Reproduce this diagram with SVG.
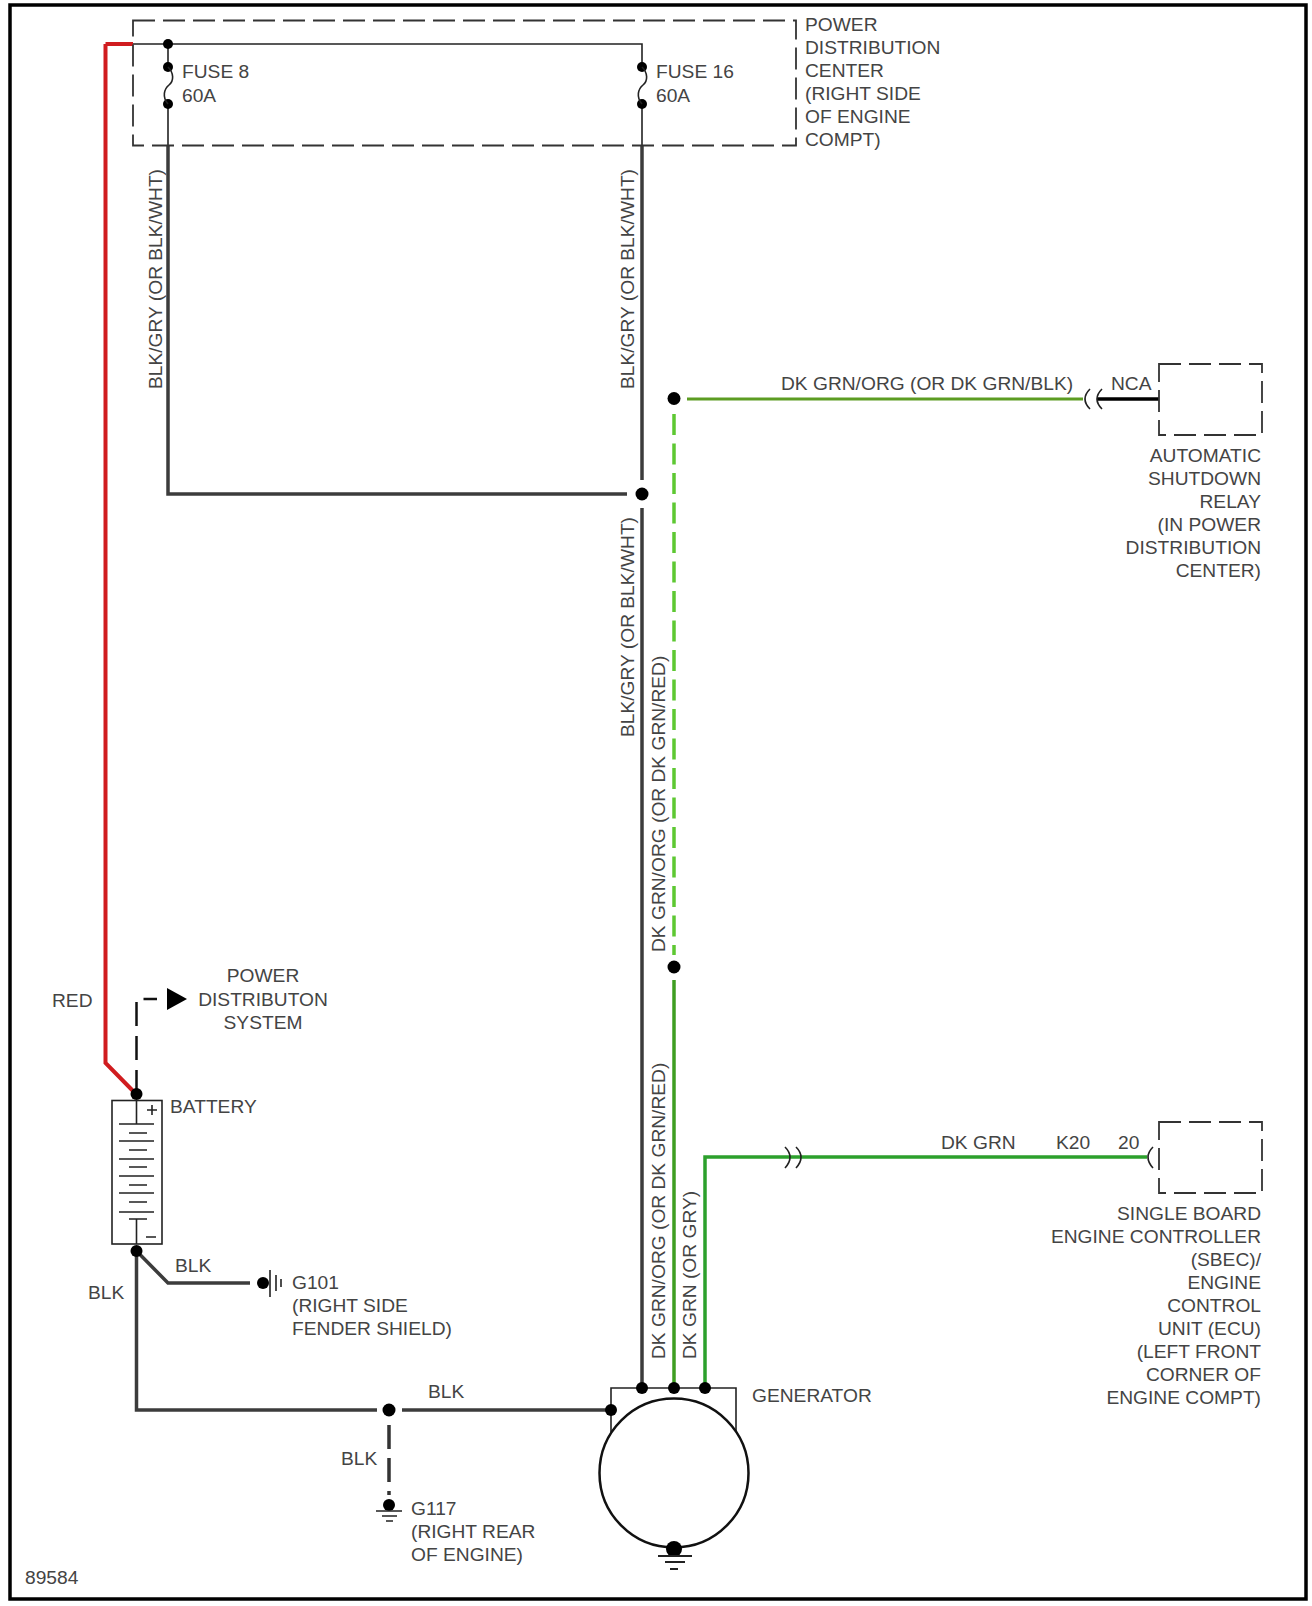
<svg xmlns="http://www.w3.org/2000/svg" width="1312" height="1606" viewBox="0 0 1312 1606">
<style>
text{font-family:"Liberation Sans",Arial,sans-serif;font-size:19.200px;fill:#444}
.e{text-anchor:end}.m{text-anchor:middle}
.w{fill:none;stroke-linejoin:miter}
.k{stroke:#3c3c3c;stroke-width:2.5}
.kt{stroke:#3c3c3c;stroke-width:3.5}
.t{fill:none;stroke:#222;stroke-width:1.6}
.d{fill:none;stroke:#333;stroke-width:1.8;stroke-dasharray:22 8}
.g{fill:none;stroke:#2ca02c;stroke-width:3.5}
circle{fill:#000}
</style>
<rect width="1312" height="1606" fill="#fff"/>
<rect x="10" y="5" width="1296" height="1594" fill="none" stroke="#000" stroke-width="3.5"/>
<g id="connectors" class="w">
<path class="w" d="M105.500 44V1063L136 1094" style="stroke:#d01c1f;stroke-width:4"/>
<path class="w" d="M105.500 44H133" style="stroke:#d01c1f;stroke-width:4"/>
<path class="t" d="M133 44H642V67"/>
<path class="t" d="M168 44V67"/>
<path class="t" d="M168 104V146M642 104V146"/>
<path class="w kt" d="M168 146V494H627"/>
<path class="w kt" d="M642 146V480M642 508V1388"/>
<path class="w" d="M687 399H1083" style="stroke:#5c9c22;stroke-width:3"/>
<path class="w" d="M1097 399H1159" style="stroke:#000;stroke-width:3.5"/>
<path class="w" d="M674 414V955" style="stroke:#5dc832;stroke-width:3.500;stroke-dasharray:21 8.500"/>
<path class="w" d="M674 980V1388" style="stroke:#3f9e22;stroke-width:3.500"/>
<path class="g" d="M705 1388V1157H1147"/>
<path class="w" d="M136.500 1094V999H157" style="stroke:#111;stroke-width:2.500;stroke-dasharray:24 10"/>
<path class="w kt" d="M136.500 1251V1410H377M402 1410H611"/>
<path class="w kt" d="M136.500 1251L168 1283H250"/>
<path class="w" d="M389 1425V1495" style="stroke:#333;stroke-width:3.500;stroke-dasharray:24 9"/>
</g>
<g id="power-distribution-center">
<path class="d" d="M133 20.500H796V145.500H133Z"/>
<text x="805" y="31">POWER</text><text x="805" y="54">DISTRIBUTION</text><text x="805" y="77">CENTER</text><text x="805" y="100">(RIGHT SIDE</text><text x="805" y="123">OF ENGINE</text><text x="805" y="146">COMPT)</text>
</g>
<g id="fuse-8">
<circle cx="168" cy="44" r="5"/><circle cx="168" cy="67" r="5"/><circle cx="168" cy="104" r="5"/>
<path class="t" d="M168 67C174 73 174 81 169 85C164 89 162 97 168 104"/>
<text x="182" y="78">FUSE 8</text><text x="182" y="102">60A</text>
</g>
<g id="fuse-16">
<circle cx="642" cy="67" r="5"/><circle cx="642" cy="104" r="5"/>
<path class="t" d="M642 67C648 73 648 81 643 85C638 89 636 97 642 104"/>
<text x="656" y="78">FUSE 16</text><text x="656" y="102">60A</text>
</g>
<g id="wire-labels">
<text transform="translate(162 389) rotate(-90)">BLK/GRY (OR BLK/WHT)</text>
<text transform="translate(634 389) rotate(-90)">BLK/GRY (OR BLK/WHT)</text>
<text transform="translate(634 737) rotate(-90)">BLK/GRY (OR BLK/WHT)</text>
<text transform="translate(665 952) rotate(-90)">DK GRN/ORG (OR DK GRN/RED)</text>
<text transform="translate(665 1359) rotate(-90)">DK GRN/ORG (OR DK GRN/RED)</text>
<text transform="translate(696 1359) rotate(-90)">DK GRN (OR GRY)</text>
<text x="781" y="390">DK GRN/ORG (OR DK GRN/BLK)</text>
<text x="1111" y="390">NCA</text>
<text x="941" y="1149">DK GRN</text><text x="1056" y="1149">K20</text><text x="1118" y="1149">20</text>
<text x="52" y="1007">RED</text>
<text x="175" y="1272">BLK</text><text x="88" y="1299">BLK</text><text x="428" y="1398">BLK</text><text x="341" y="1465">BLK</text>
</g>
<g id="splices">
<circle cx="642" cy="494" r="6.500"/><circle cx="674" cy="398.500" r="6.500"/><circle cx="674" cy="967" r="6.500"/><circle cx="389" cy="1410" r="6.500"/>
</g>
<g id="asd-relay">
<path class="d" d="M1159 364H1262V435H1159Z"/>
<path class="t" d="M1090 389Q1080 399 1090 409M1102 389Q1092 399 1102 409"/>
<text class="e" x="1261" y="462">AUTOMATIC</text><text class="e" x="1261" y="485">SHUTDOWN</text><text class="e" x="1261" y="508">RELAY</text><text class="e" x="1261" y="531">(IN POWER</text><text class="e" x="1261" y="554">DISTRIBUTION</text><text class="e" x="1261" y="577">CENTER)</text>
</g>
<g id="sbec">
<path class="d" d="M1159 1122H1262V1193H1159Z"/>
<path class="t" d="M1153 1147Q1143 1157 1153 1168"/>
<path class="t" d="M785 1147Q795 1157 785 1168M796 1147Q806 1157 796 1168"/>
<text class="e" x="1261" y="1220">SINGLE BOARD</text><text class="e" x="1261" y="1243">ENGINE CONTROLLER</text><text class="e" x="1261" y="1266">(SBEC)/</text><text class="e" x="1261" y="1289">ENGINE</text><text class="e" x="1261" y="1312">CONTROL</text><text class="e" x="1261" y="1335">UNIT (ECU)</text><text class="e" x="1261" y="1358">(LEFT FRONT</text><text class="e" x="1261" y="1381">CORNER OF</text><text class="e" x="1261" y="1404">ENGINE COMPT)</text>
</g>
<g id="power-distribution-system">
<path d="M167 988L187 999L167 1010Z" fill="#000"/>
<text class="m" x="263" y="982">POWER</text><text class="m" x="263" y="1006">DISTRIBUTON</text><text class="m" x="263" y="1029">SYSTEM</text>
</g>
<g id="battery">
<rect x="112" y="1100.500" width="50" height="143.500" class="t" fill="none"/>
<path class="t" d="M136.500 1100V1124M136.500 1219V1244M119 1124H154M129 1133H147M119 1141H154M129 1150H147M119 1159H154M129 1167H147M119 1176H154M129 1185H147M119 1193H154M129 1202H147M119 1212H154M129 1219H147M147 1110H157M152 1105V1115M146 1237H156"/>
<circle cx="136.500" cy="1094" r="6"/><circle cx="136.500" cy="1251" r="6"/>
<text x="170" y="1113">BATTERY</text>
</g>
<g id="g101">
<circle cx="263" cy="1283" r="6"/>
<path class="t" d="M270 1270V1297M276 1275V1291M281 1279V1287"/>
<text x="292" y="1289">G101</text><text x="292" y="1312">(RIGHT SIDE</text><text x="292" y="1335">FENDER SHIELD)</text>
</g>
<g id="g117">
<circle cx="389" cy="1505" r="6"/>
<path class="t" d="M376 1511H402M382 1516H397M386 1521H393"/>
<text x="411" y="1515">G117</text><text x="411" y="1538">(RIGHT REAR</text><text x="411" y="1561">OF ENGINE)</text>
</g>
<g id="generator">
<path class="t" d="M611 1432V1388H736V1432"/>
<circle cx="674" cy="1473" r="74.500" style="fill:none;stroke:#111;stroke-width:2.500"/>
<circle cx="642" cy="1388" r="6"/><circle cx="674" cy="1388" r="6"/><circle cx="705" cy="1388" r="6"/><circle cx="611" cy="1410" r="6"/>
<circle cx="674" cy="1549" r="8"/>
<path class="t" d="M658 1556H692M665 1562H685M670 1569H678" style="stroke-width:2.200"/>
<text x="752" y="1402">GENERATOR</text>
</g>
<text x="25" y="1584">89584</text>
</svg>
